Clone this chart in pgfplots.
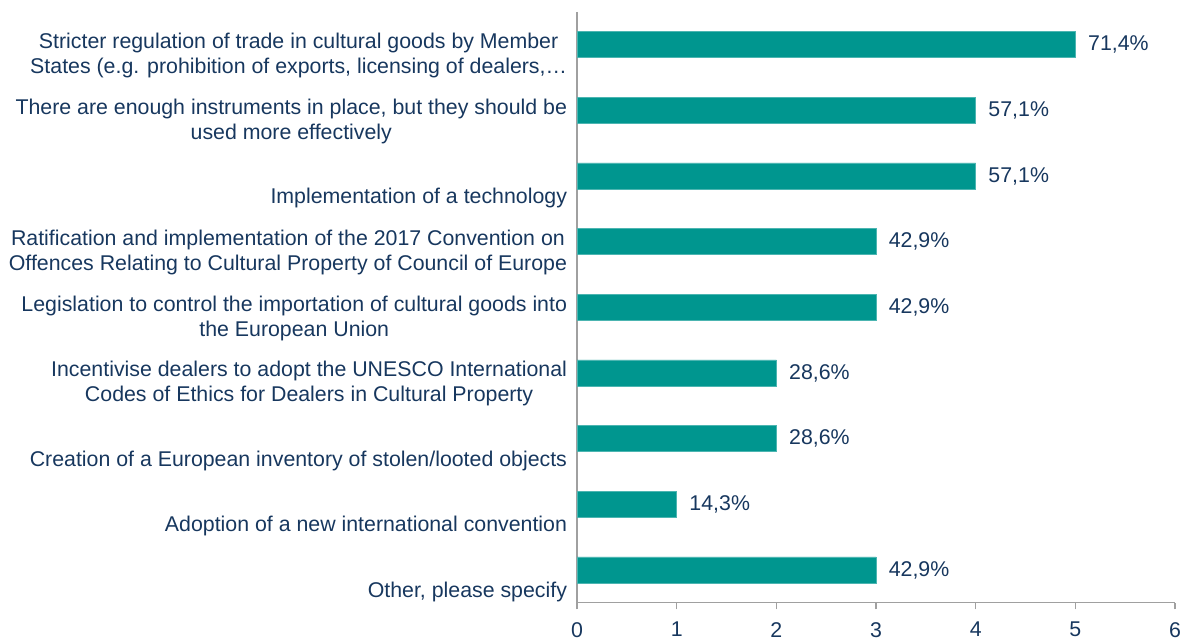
\documentclass[border=0pt]{standalone}
\usepackage{pgfplots}
\pgfplotsset{compat=1.18}
\usepackage{fontspec}
\setmainfont{Liberation Sans}
\definecolor{barteal}{RGB}{0,150,143}
\definecolor{txtblue}{RGB}{23,55,94}
\definecolor{axgray}{RGB}{160,160,160}
\newcommand{\chartfont}{\fontsize{16}{18.75}\selectfont}

\begin{document}
\begin{tikzpicture}
\begin{axis}[
  xbar,
  scale only axis,
  width=448.5pt, height=443.25pt,
  xmin=0, xmax=6, ymin=-0.5, ymax=8.5,
  y dir=reverse,
  bar width=19.5pt,
  clip=false,
  axis x line=bottom, axis y line=left,
  axis line style={-, draw=axgray, line width=1pt},
  xtick={0,1,...,6},
  ytick={0,1,...,8},
  yticklabels={
    {Stricter regulation of trade in cultural goods by Member\\States (e.g. prohibition of exports, licensing of dealers,…},
    {There are enough instruments in place, but they should be\\used more effectively},
    {\mbox{}\\[10pt]Implementation of a technology},
    {Ratification and implementation of the 2017 Convention on\\Offences Relating to Cultural Property of Council of Europe},
    {Legislation to control the importation of cultural goods into\\the European Union},
    {Incentivise dealers to adopt the UNESCO International\\Codes of Ethics for Dealers in Cultural Property},
    {\mbox{}\\[10pt]Creation of a European inventory of stolen/looted objects},
    {\mbox{}\\[10pt]Adoption of a new international convention},
    {\mbox{}\\[10pt]Other, please specify}
  },
  tick align=outside,
  major tick length=5pt,
  xtick style={draw=axgray, line width=1pt},
  ytick style={draw=none},
  yticklabel style={align=center, font=\chartfont, text=txtblue, yshift=-8pt, xshift=1pt},
  xticklabel style={font=\chartfont, text=txtblue, yshift=-6pt},
  /pgf/number format/assume math mode=true,
  nodes near coords,
  point meta=explicit symbolic,
  nodes near coords style={anchor=west, font=\chartfont, text=txtblue, xshift=6pt},
]
\addplot[fill=barteal, draw=barteal!70!white, line width=0.5pt] table[meta=lbl] {
x y lbl
5 0 71,4\%
4 1 57,1\%
4 2 57,1\%
3 3 42,9\%
3 4 42,9\%
2 5 28,6\%
2 6 28,6\%
1 7 14,3\%
3 8 42,9\%
};
\path (axis description cs:-0.965,-0.061) rectangle (axis description cs:1.020,1.020);
\end{axis}
\end{tikzpicture}
\end{document}
